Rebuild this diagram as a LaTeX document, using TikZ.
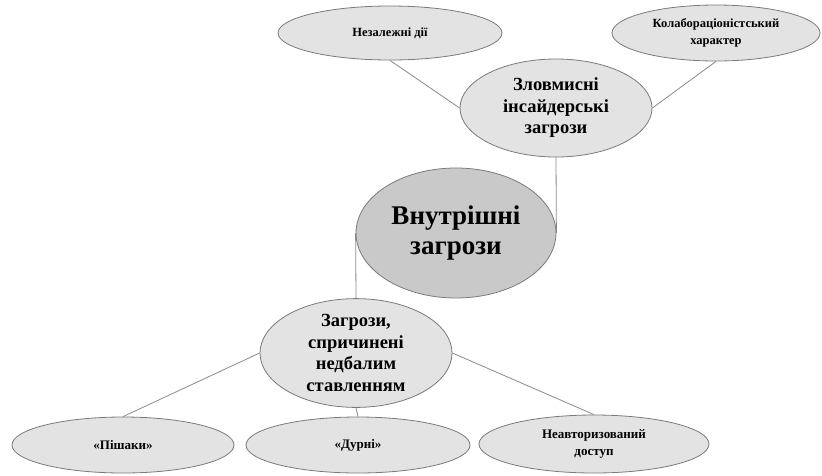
\documentclass[tikz,border=0pt]{standalone}
\usepackage{fontspec}
\setmainfont{Liberation Serif}
\newfontfamily\lserif{Liberation Serif}
\usetikzlibrary{shapes.geometric}
\definecolor{elfill}{HTML}{E3E3E3}
\definecolor{cfill}{HTML}{C9C9C9}
\definecolor{edgec}{HTML}{7A7A7A}
\definecolor{connc}{HTML}{8A8A8A}
\tikzset{
  el/.style={ellipse, draw=edgec, fill=elfill, line width=0.8pt, inner sep=0pt, align=center},
  smalltxt/.style={font=\lserif\bfseries\fontsize{12.5}{17}\selectfont},
  lowtxt/.style={font=\lserif\bfseries\fontsize{13}{17}\selectfont},
  midtxt/.style={font=\lserif\bfseries\fontsize{18.5}{21.5}\selectfont},
  bigtxt/.style={font=\lserif\bfseries\fontsize{27}{30}\selectfont},
  conn/.style={draw=connc, line width=0.8pt},
}
\begin{document}
\begin{tikzpicture}[x=1pt,y=-1pt]
\useasboundingbox (0,0) rectangle (822,475);
% top level
\node[el, smalltxt, minimum width=224, minimum height=54] (nez) at (390,33) {Незалежні дії};
\node[el, smalltxt, minimum width=208, minimum height=56] (kol) at (716,33) {Колабораціоністський\\характер};
\node[el, midtxt, minimum width=192, minimum height=98] (zlov) at (556,108) {Зловмисні\\інсайдерські\\загрози};
% centre
\node[el, bigtxt, fill=cfill, minimum width=200, minimum height=130] (inner) at (456,233) {Внутрішні\\загрози};
% lower level
\node[el, midtxt, minimum width=192, minimum height=98] (zag) at (356,353) {Загрози,\\спричинені\\недбалим\\ставленням};
\node[el, lowtxt, minimum width=222, minimum height=56] (pish) at (123,445) {«Пішаки»};
\node[el, lowtxt, minimum width=224, minimum height=56] (dur) at (358,445) {«Дурні»};
\node[el, lowtxt, minimum width=230, minimum height=58] (neav) at (594,444) {Неавторизований\\доступ};
% connectors
\draw[conn] (nez.south) -- (zlov.west);
\draw[conn] (kol.south) -- (zlov.east);
\draw[conn] (zlov.south) -- (inner.east);
\draw[conn] (inner.west) -- (zag.north);
\draw[conn] (zag.west) -- (pish.north);
\draw[conn] (zag.south) -- (dur.north);
\draw[conn] (zag.east) -- (neav.north);
\end{tikzpicture}
\end{document}
